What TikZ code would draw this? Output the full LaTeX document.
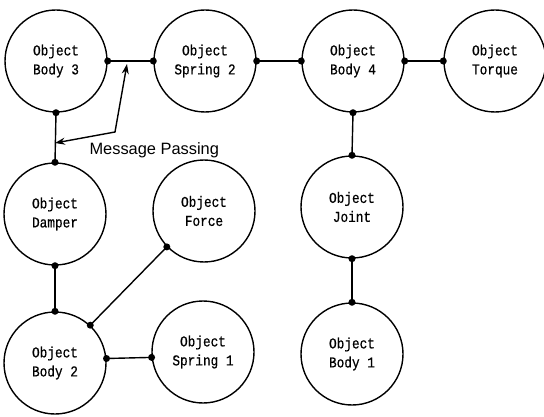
\documentclass[tikz,border=0pt]{standalone}
\usepackage{fontspec}
\setmainfont{Liberation Sans}
\newfontfamily\objfont[FakeStretch=0.85,FakeBold=0.6]{Liberation Mono}
\usetikzlibrary{arrows.meta}
\tikzset{
  obj/.style={circle, draw, line width=1.4pt, minimum size=102pt, inner sep=0pt,
    align=center, font=\objfont\fontsize{15}{19}\selectfont},
  link/.style={line width=1.4pt},
  dot/.style={circle, fill, inner sep=0pt, minimum size=7pt},
}
\begin{document}
\begin{tikzpicture}[x=1pt, y=-1pt]
  \useasboundingbox (0,0) rectangle (544,417);
  % objects
  \node[obj] (b3) at (56,61) {Object\\Body 3};
  \node[obj] (s2) at (205,61) {Object\\Spring 2};
  \node[obj] (b4) at (353,61) {Object\\Body 4};
  \node[obj] (tq) at (495,61) {Object\\Torque};
  \node[obj] (dp) at (55,214) {Object\\Damper};
  \node[obj] (fc) at (204,211) {Object\\Force};
  \node[obj] (jt) at (352,207) {Object\\Joint};
  \node[obj] (b2) at (55,363) {Object\\Body 2};
  \node[obj] (s1) at (203,352) {Object\\Spring 1};
  \node[obj] (b1) at (352,354) {Object\\Body 1};
  % connection ports
  \foreach \n/\a in {b3/east, s2/west, s2/east, b4/west, b4/east, tq/west,
                     b4/south, jt/north, jt/south, b1/north,
                     b3/south, dp/north, dp/south, b2/north}
    \node[dot] (\n-\a) at (\n.\a) {};
  \node[dot] (b2-e) at (b2.5.5) {};
  \node[dot] (s1-w) at (s1.186.8) {};
  \node[dot] (b2-f) at (b2.47) {};
  \node[dot] (fc-b) at (fc.224) {};
  % connections
  \draw[link] (b3-east.center) -- (s2-west.center);
  \draw[link] (s2-east.center) -- (b4-west.center);
  \draw[link] (b4-east.center) -- (tq-west.center);
  \draw[link] (b4-south.center) -- (jt-north.center);
  \draw[link] (jt-south.center) -- (b1-north.center);
  \draw[link] (b3-south.center) -- (dp-north.center);
  \draw[link] (dp-south.center) -- (b2-north.center);
  \draw[link] (b2-e.center) -- (s1-w.center);
  \draw[link] (b2-f.center) -- (fc-b.center);
  % message passing arrow
  \coordinate (mpA) at (127,64);
  \coordinate (mpB) at (115,132);
  \coordinate (mpC) at (55,143);
  \draw[link, {Stealth[length=10pt,width=7pt]}-{Stealth[length=10pt,width=7pt]}]
    (mpA) -- (mpB) -- (mpC);
  \node[font=\fontsize{16.4}{19}\selectfont, anchor=west] (mp) at (86,150) {Message Passing};
\end{tikzpicture}
\end{document}
